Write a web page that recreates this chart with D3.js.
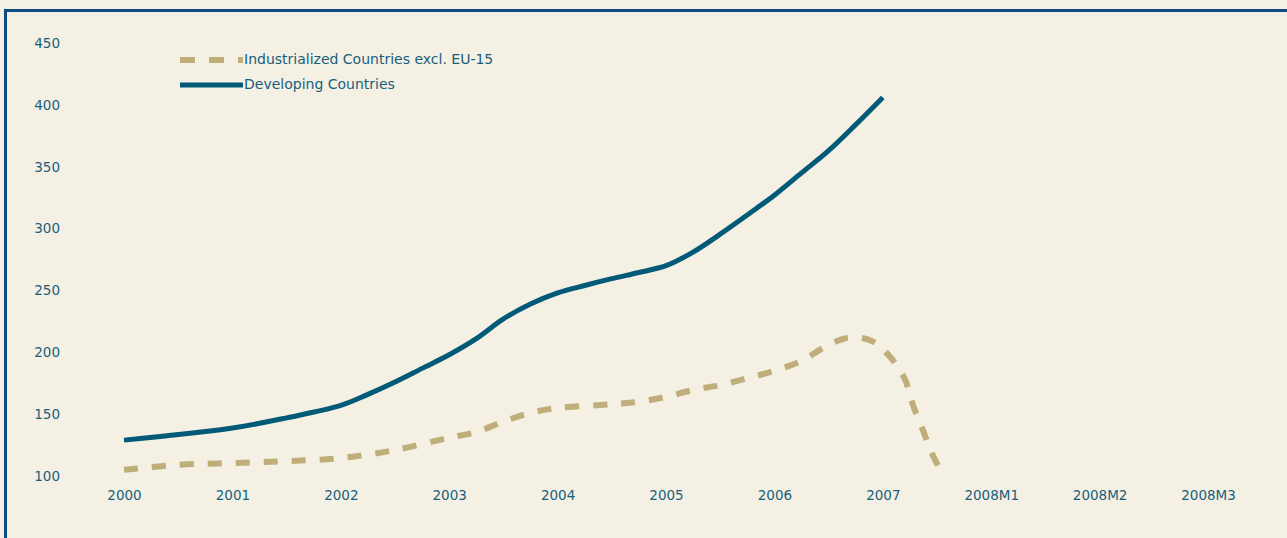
<!DOCTYPE html>
<html>
<head>
<meta charset="utf-8">
<script src="https://cdn.jsdelivr.net/npm/d3@7"></script>
<style>
  html, body { margin: 0; padding: 0; background: #f5f0e4; }
  svg { display: block; }
  text { font-family: "DejaVu Sans", "Open Sans", sans-serif; fill: #17607c; }
</style>
</head>
<body>
<div id="grafico"></div>
<script>
// ==============================
// DATOS
// ==============================

const etiquetasX = ["2000", "2001", "2002", "2003", "2004", "2005", "2006", "2007", "2008M1", "2008M2", "2008M3"];
const ticksY = [100, 150, 200, 250, 300, 350, 400, 450];

// posición en años desde 2000 (0 = 2000, 7 = 2007)
const tiempoDesarrollo = [0, 1, 1.5, 2, 2.25, 2.5, 2.75, 3, 3.25, 3.5, 3.75, 4, 4.25, 4.5, 4.75, 5, 5.25, 5.5, 5.75, 6, 6.25, 6.5, 6.75, 7];
const valoresDesarrollo = [129, 138.8, 147, 157, 166, 176, 187, 198, 211, 227, 239, 248, 254, 259.5, 264.5, 270, 281, 295.5, 311, 327, 345, 363, 384, 406];

const tiempoIndustria = [0, 0.5, 1, 1.5, 2, 2.5, 3, 3.25, 3.5, 3.75, 4, 4.5, 4.75, 5, 5.25, 5.5, 5.75, 6, 6.25, 6.5, 6.7, 6.9, 7.07, 7.2, 7.28, 7.37, 7.46, 7.57];
const valoresIndustria = [105, 109, 110.5, 112, 114.5, 121, 131, 135.5, 144, 151, 155, 158, 160, 164, 169.5, 173.5, 179, 185, 193, 206, 212, 209, 196, 179, 157, 137, 117, 99];

const series = [
  { nombre: "Industrialized Countries excl. EU-15", t: tiempoIndustria, v: valoresIndustria, color: "#bfae7a", ancho: 6, guiones: "14,14" },
  { nombre: "Developing Countries", t: tiempoDesarrollo, v: valoresDesarrollo, color: "#005a78", ancho: 5, guiones: null }
];

// ==============================
// SVG BASE
// ==============================

const ANCHO = 1287, ALTO = 538;

const svg = d3.select("#grafico").append("svg")
  .attr("width", ANCHO)
  .attr("height", ALTO);

svg.append("rect")
  .attr("x", 0).attr("y", 0)
  .attr("width", ANCHO).attr("height", ALTO)
  .attr("fill", "#f5f0e4");

// marco (solo se ven lados superior e izquierdo)
svg.append("rect")
  .attr("x", 5.5).attr("y", 10.5)
  .attr("width", ANCHO + 20).attr("height", ALTO + 20)
  .attr("fill", "none")
  .attr("stroke", "#0e4a84")
  .attr("stroke-width", 3);

// ==============================
// ESCALAS Y EJES
// ==============================

const x = d3.scaleLinear().domain([0, 10]).range([124, 1208]);
const y = d3.scaleLinear().domain([100, 450]).range([476, 43]);

const ejeY = svg.append("g")
  .attr("transform", "translate(60,0)")
  .call(d3.axisLeft(y).tickValues(ticksY).tickSize(0).tickPadding(0));
ejeY.select(".domain").remove();
ejeY.selectAll("text").style("font-size", "13.5px").attr("fill", "#17607c");

const ejeX = svg.append("g")
  .attr("transform", "translate(0,490)")
  .call(d3.axisBottom(x)
    .tickValues(d3.range(etiquetasX.length))
    .tickFormat(i => etiquetasX[i])
    .tickSize(0).tickPadding(0));
ejeX.select(".domain").remove();
ejeX.selectAll("text").style("font-size", "13.5px").attr("fill", "#17607c");

// ==============================
// LÍNEAS
// ==============================

const linea = d3.line()
  .x(d => x(d[0]))
  .y(d => y(d[1]))
  .curve(d3.curveCatmullRom.alpha(0.5));

series.forEach(s => {
  const puntos = s.t.map((t, i) => [t, s.v[i]]);
  svg.append("path")
    .datum(puntos)
    .attr("d", linea)
    .attr("fill", "none")
    .attr("stroke", s.color)
    .attr("stroke-width", s.ancho)
    .attr("stroke-dasharray", s.guiones);
});

// ==============================
// LEYENDA
// ==============================

const leyenda = svg.append("g").attr("transform", "translate(180,60)");

series.forEach((s, i) => {
  const fila = leyenda.append("g").attr("transform", `translate(0,${i * 25})`);
  fila.append("line")
    .attr("x1", 0).attr("x2", 63)
    .attr("y1", 0).attr("y2", 0)
    .attr("stroke", s.color)
    .attr("stroke-width", s.ancho)
    .attr("stroke-dasharray", s.guiones ? "15,14" : null);
  fila.append("text")
    .attr("x", 64)
    .attr("y", 0)
    .attr("dy", "0.32em")
    .style("font-size", "14px")
    .text(s.nombre);
});
</script>
</body>
</html>
